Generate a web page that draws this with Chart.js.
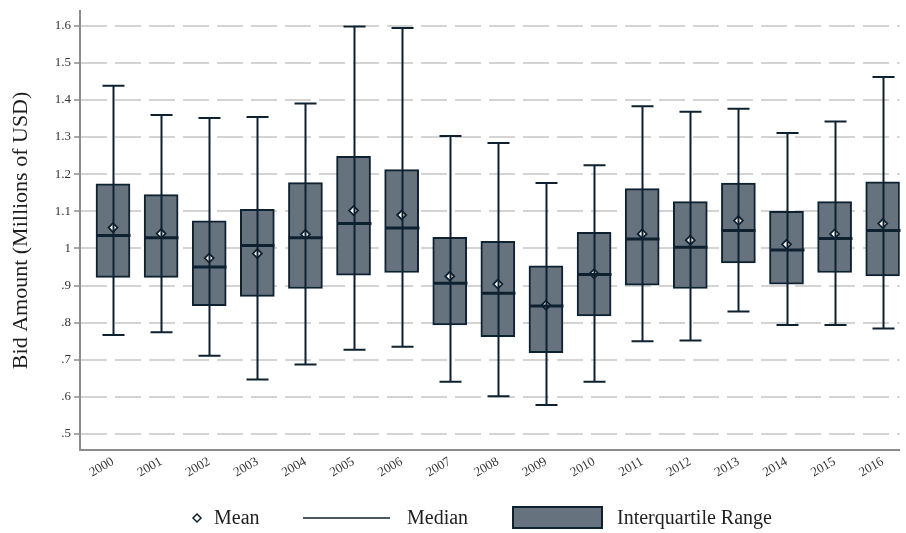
<!DOCTYPE html>
<html>
<head>
<meta charset="utf-8">
<script src="https://cdn.jsdelivr.net/npm/chart.js@4.4.1/dist/chart.umd.min.js"></script>
<style>
  html, body { margin: 0; padding: 0; background: #ffffff; }
  #wrap { width: 906px; height: 533px; }
</style>
</head>
<body>
<div id="wrap"><canvas id="bids" width="906" height="533"></canvas></div>
<script>
// Yearly distribution of bid amounts (millions of USD)
const years = ['2000','2001','2002','2003','2004','2005','2006','2007','2008','2009','2010','2011','2012','2013','2014','2015','2016'];
const upperWhisker = [1.438, 1.359, 1.351, 1.354, 1.390, 1.598, 1.594, 1.303, 1.284, 1.176, 1.224, 1.383, 1.368, 1.376, 1.311, 1.342, 1.462];
const q3Values     = [1.174, 1.145, 1.074, 1.105, 1.177, 1.248, 1.212, 1.030, 1.019, 0.953, 1.043, 1.161, 1.126, 1.176, 1.100, 1.126, 1.179];
const medianValues = [1.035, 1.029, 0.950, 1.008, 1.029, 1.067, 1.055, 0.906, 0.879, 0.845, 0.930, 1.025, 1.003, 1.048, 0.996, 1.027, 1.048];
const meanValues   = [1.056, 1.040, 0.974, 0.986, 1.038, 1.102, 1.090, 0.925, 0.904, 0.847, 0.932, 1.039, 1.022, 1.075, 1.011, 1.039, 1.067];
const q1Values     = [0.922, 0.922, 0.846, 0.871, 0.892, 0.928, 0.935, 0.794, 0.762, 0.719, 0.818, 0.901, 0.892, 0.961, 0.904, 0.935, 0.926];
const lowerWhisker = [0.767, 0.774, 0.711, 0.647, 0.687, 0.727, 0.735, 0.641, 0.602, 0.578, 0.641, 0.750, 0.752, 0.830, 0.794, 0.794, 0.784];
const yTickValues  = [0.5, 0.6, 0.7, 0.8, 0.9, 1.0, 1.1, 1.2, 1.3, 1.4, 1.5, 1.6];

const INK = '#0e2131';
const BOX_FILL = '#66737e';
const AXIS_GREY = '#8c8c8c';
const SERIF = '"Liberation Serif", "DejaVu Serif", serif';
const BOX_WIDTH = 34;
const CAP_WIDTH = 22;

function fmtTick(v) {
  const r = Math.round(v * 10) / 10;
  if (Math.abs(r - 1) < 1e-9) return '1';
  const s = r.toFixed(1);
  return r < 1 ? s.replace(/^0/, '') : s;
}

// Whiskers, caps and medians drawn on top of the IQR boxes, plus the bottom legend
const boxExtras = {
  id: 'boxExtras',
  afterDatasetsDraw(chart) {
    const { ctx, scales: { x, y } } = chart;
    ctx.save();
    ctx.strokeStyle = INK;
    ctx.lineCap = 'butt';
    years.forEach((_, i) => {
      const cx = Math.round(x.getPixelForValue(i)) + 0.5;
      const yHi = y.getPixelForValue(upperWhisker[i]);
      const yLo = y.getPixelForValue(lowerWhisker[i]);
      const yMed = y.getPixelForValue(medianValues[i]);
      ctx.lineWidth = 2;
      ctx.beginPath();
      ctx.moveTo(cx, yHi); ctx.lineTo(cx, yLo);
      ctx.moveTo(cx - CAP_WIDTH / 2, yHi); ctx.lineTo(cx + CAP_WIDTH / 2, yHi);
      ctx.moveTo(cx - CAP_WIDTH / 2, yLo); ctx.lineTo(cx + CAP_WIDTH / 2, yLo);
      ctx.stroke();
      ctx.lineWidth = 3;
      ctx.beginPath();
      ctx.moveTo(cx - BOX_WIDTH / 2, yMed); ctx.lineTo(cx + BOX_WIDTH / 2, yMed);
      ctx.stroke();
    });
    ctx.restore();
  },
  afterDraw(chart) {
    const { ctx } = chart;
    const ly = 518;
    ctx.save();
    ctx.font = '20px ' + SERIF;
    ctx.textBaseline = 'middle';
    // Mean marker
    ctx.strokeStyle = INK;
    ctx.lineWidth = 1.5;
    ctx.fillStyle = '#ffffff';
    ctx.beginPath();
    ctx.moveTo(197, ly - 4); ctx.lineTo(201, ly); ctx.lineTo(197, ly + 4); ctx.lineTo(193, ly);
    ctx.closePath(); ctx.fill(); ctx.stroke();
    ctx.fillStyle = '#1e1e1e';
    ctx.fillText('Mean', 214, ly + 1);
    // Median line
    ctx.lineWidth = 1.5;
    ctx.beginPath(); ctx.moveTo(303, ly); ctx.lineTo(390, ly); ctx.stroke();
    ctx.fillText('Median', 407, ly + 1);
    // IQR box
    ctx.fillStyle = BOX_FILL;
    ctx.fillRect(513, 507, 89, 21);
    ctx.lineWidth = 2;
    ctx.strokeRect(513, 507, 89, 21);
    ctx.fillStyle = '#1e1e1e';
    ctx.fillText('Interquartile Range', 617, ly + 1);
    ctx.restore();
  }
};

new Chart(document.getElementById('bids'), {
  type: 'bar',
  data: {
    datasets: [
      {
        label: 'Mean',
        type: 'scatter',
        order: 1,
        data: years.map((_, i) => ({ x: i, y: meanValues[i] })),
        pointStyle: 'rectRot',
        radius: 4.5,
        borderWidth: 1.8,
        borderColor: INK,
        backgroundColor: '#ffffff'
      },
      {
        label: 'Interquartile Range',
        type: 'bar',
        order: 2,
        data: years.map((_, i) => ({ x: i, y: [q1Values[i], q3Values[i]] })),
        backgroundColor: BOX_FILL,
        borderColor: INK,
        borderWidth: 2,
        borderSkipped: false,
        barThickness: BOX_WIDTH
      }
    ]
  },
  options: {
    responsive: false,
    animation: false,
    events: [],
    layout: { padding: { top: 6, right: 0, bottom: 0, left: 0 } },
    plugins: {
      legend: { display: false },
      tooltip: { enabled: false }
    },
    scales: {
      x: {
        type: 'linear',
        offset: false,
        min: -0.686,
        max: 16.353,
        afterBuildTicks(scale) { scale.ticks = years.map((_, i) => ({ value: i })); },
        afterFit(scale) { scale.height = 83; },
        grid: { display: false, drawTicks: false, offset: false },
        border: { display: true, color: AXIS_GREY, width: 2 },
        ticks: {
          autoSkip: false,
          minRotation: 30,
          maxRotation: 30,
          padding: 4,
          color: '#333333',
          font: { family: SERIF, size: 13 },
          callback: (v) => years[v]
        }
      },
      y: {
        type: 'linear',
        min: 0.457,
        max: 1.64,
        afterBuildTicks(scale) { scale.ticks = yTickValues.map(v => ({ value: v })); },
        afterFit(scale) { scale.width = 80; },
        grid: {
          color: '#d4d4d4',
          lineWidth: 2,
          tickColor: AXIS_GREY,
          tickLength: 6,
          tickWidth: 1.5,
          tickBorderDash: []
        },
        border: { display: true, color: AXIS_GREY, width: 2, dash: [26, 8] },
        ticks: {
          color: '#333333',
          padding: 3,
          font: { family: SERIF, size: 13 },
          callback: (v) => fmtTick(v)
        },
        title: {
          display: true,
          text: 'Bid Amount (Millions of USD)',
          color: '#1e1e1e',
          font: { family: SERIF, size: 22 },
          padding: { top: 8, bottom: 0 }
        }
      }
    }
  },
  plugins: [boxExtras]
});
</script>
</body>
</html>
